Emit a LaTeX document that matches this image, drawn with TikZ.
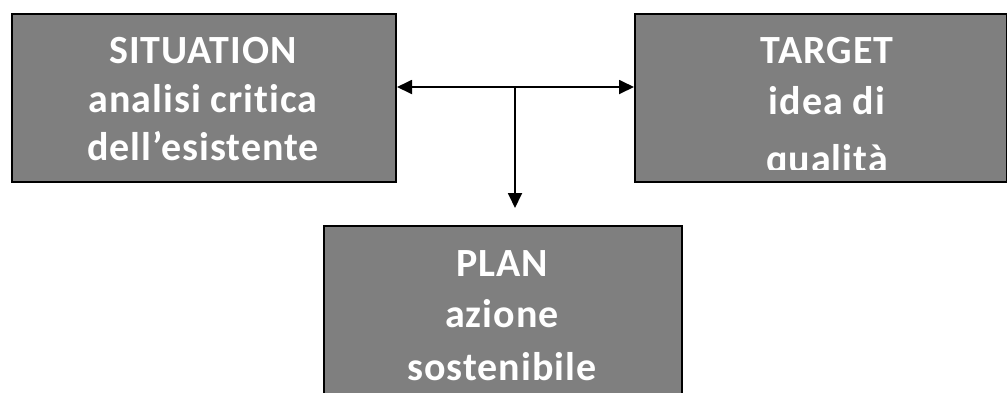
\documentclass[tikz,border=0pt]{standalone}
\usepackage{fontspec}
\setmainfont{Carlito}[Ligatures=CommonOff, LetterSpace=2.5]
\usetikzlibrary{arrows.meta}
\definecolor{boxgray}{HTML}{7F7F7F}
\tikzset{
  box/.style={draw=black, line width=2pt, fill=boxgray, inner sep=0pt, anchor=north west},
  txt/.style={text=white, font=\fontsize{40}{48}\selectfont\bfseries, anchor=base, inner sep=0pt},
  conn/.style={line width=1.8pt, draw=black},
  tip/.style={-{Triangle[length=15pt,width=14pt]}}
}
\begin{document}
\begin{tikzpicture}[x=1pt,y=-1pt]
\useasboundingbox (0,0) rectangle (1007,392);
% boxes
\node[box, minimum width=384pt, minimum height=168pt] (sit) at (11,13) {};
\node[box, minimum width=372pt, minimum height=168pt] (tgt) at (634,13) {};
\node[box, minimum width=358pt, minimum height=190pt] (plan) at (323,225) {};
% texts
\node[txt] (s1) at (203,63) {SITUATION};
\node[txt] (s2) at (203,112) {analisi critica};
\node[txt] (s3) at (203,160) {dell’esistente};
\begin{scope}
\clip (635,14) rectangle (1005,169.5);
\node[txt] (t1) at (827,63) {TARGET};
\node[txt] (t2) at (827,114) {idea di};
\node[txt] (t3) at (827,172) {qualità};
\end{scope}
\node[txt] (p1) at (502,276) {PLAN};
\node[txt] (p2) at (502,327) {azione};
\node[txt] (p3) at (502,380) {sostenibile};
% connectors
\coordinate (j) at (515,87);
\coordinate (pe) at (515,208);
\draw[conn, {Triangle[length=15pt,width=14pt]}-{Triangle[length=15pt,width=14pt]}] (sit.east |- j) -- (tgt.west |- j);
\draw[conn, tip] (j) -- (pe);
\end{tikzpicture}
\end{document}
